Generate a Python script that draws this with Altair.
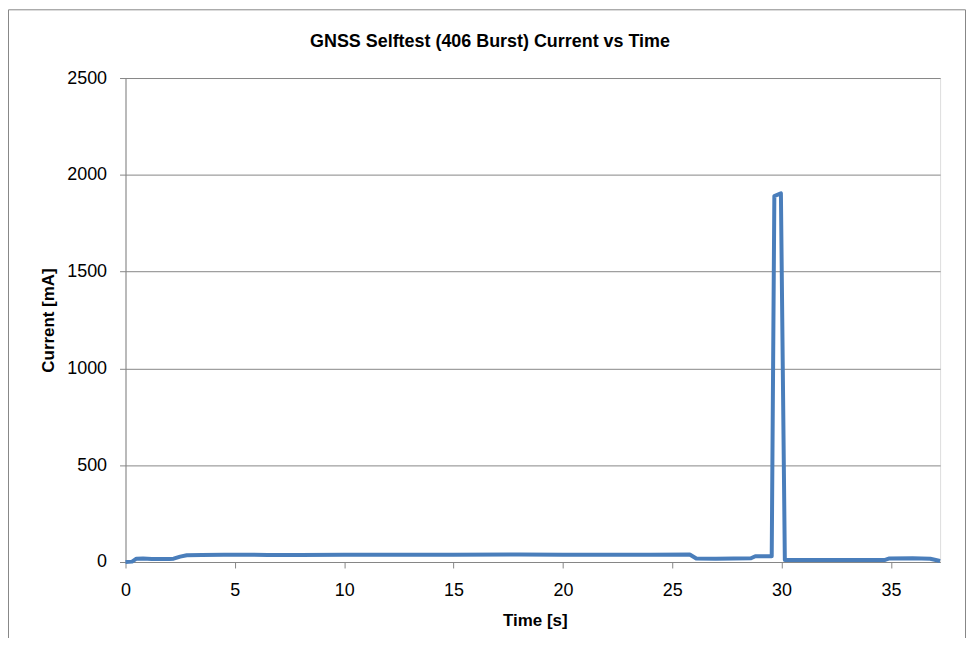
import altair as alt
import pandas as pd

title_text = "GNSS Selftest (406 Burst) Current vs Time"
x_title = "Time [s]"
y_title = "Current [mA]"

time_s = [0, 0.3, 0.5, 0.8, 1.2, 1.6, 2.0, 2.2, 2.5, 2.8, 3.5, 4.5, 5.5, 6.5, 8, 10,
          12, 15, 18, 20, 22, 24, 25.8, 26.1, 27, 28.6, 28.8, 29.55, 29.67, 29.97,
          30.15, 32, 34.7, 34.9, 36, 36.8, 37.25]
current_ma = [0, 2, 17, 18, 15, 15, 16, 17, 28, 35, 36, 37, 38, 36, 36, 37,
              37, 38, 39, 38, 37, 37, 39, 18, 17, 19, 30, 30, 1890, 1905,
              10, 10, 10, 18, 19, 17, 5]
x_ticks = [0, 5, 10, 15, 20, 25, 30, 35]
y_ticks = [0, 500, 1000, 1500, 2000, 2500]

df = pd.DataFrame({"t": time_s, "i": current_ma})

W, H = 818, 486
PAD_L, PAD_T = 118, 69
GRAY = "#868686"
LABEL_FONT = "Liberation Sans, Arial, sans-serif"
TITLE_FONT = "Liberation Sans, Arial, sans-serif"

line = alt.Chart(df).mark_line(color="#4A7EBB", strokeWidth=4, strokeJoin="round").encode(
    x=alt.X("t:Q", scale=alt.Scale(domain=[0, 37.25], nice=False, zero=False),
            axis=alt.Axis(values=x_ticks, title=x_title, grid=False, format="d",
                          domainColor=GRAY, tickColor=GRAY, tickSize=6,
                          labelFont=LABEL_FONT, labelFontSize=18, labelColor="#000",
                          labelPadding=14, labelFlush=False,
                          titleFont=TITLE_FONT, titleFontSize=17, titleFontWeight="bold",
                          titleColor="#000", titleX=W / 2 + 2, titleY=59,
                          titleBaseline="middle")),
    y=alt.Y("i:Q", scale=alt.Scale(domain=[0, 2500], nice=False),
            axis=alt.Axis(values=y_ticks, title=y_title, grid=True, gridColor=GRAY,
                          format="d",
                          domainColor=GRAY, tickColor=GRAY, tickSize=6,
                          labelFont=LABEL_FONT, labelFontSize=18, labelColor="#000",
                          labelPadding=13,
                          titleFont=TITLE_FONT, titleFontSize=17, titleFontWeight="bold",
                          titleColor="#000", titleAngle=270, titleX=-77, titleY=H / 2,
                          titleAlign="center", titleBaseline="middle")),
)

title = alt.Chart(pd.DataFrame({"s": [title_text]})).mark_text(
    font=TITLE_FONT, fontSize=18, fontWeight="bold", color="#000",
    align="center", baseline="middle"
).encode(text="s:N", x=alt.value(492 - 126), y=alt.value(41 - 77))

frame = alt.Chart(pd.DataFrame({"k": [0]})).mark_rect(
    fill=None, stroke=GRAY, strokeWidth=1
).encode(x=alt.value(-117.5), x2=alt.value(843.5), y=alt.value(-68.5), y2=alt.value(700))

chart = alt.layer(frame, line, title).properties(
    width=W, height=H,
    autosize=alt.AutoSizeParams(type="none"),
    padding={"left": PAD_L, "top": PAD_T, "right": 26, "bottom": 75},
).configure_view(stroke=None).configure(background="white")

chart.save("out.html", embed_options={"renderer": "svg", "actions": False})
